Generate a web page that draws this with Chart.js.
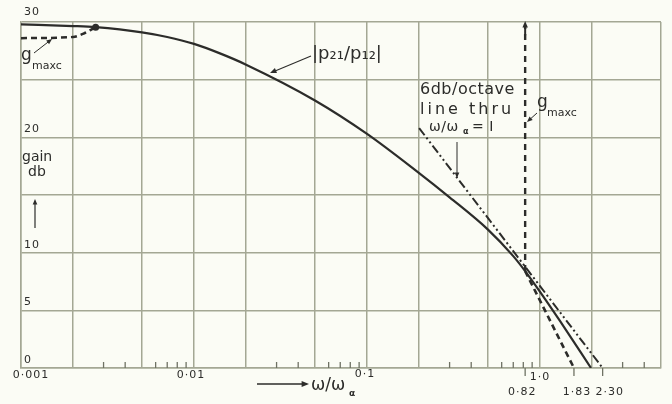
<!DOCTYPE html>
<html>
<head>
<meta charset="utf-8">
<script src="https://cdn.jsdelivr.net/npm/chart.js@4.4.1/dist/chart.umd.min.js"></script>
<style>
  html, body { margin: 0; padding: 0; background: #fbfcf5; }
  canvas { display: block; }
</style>
</head>
<body>
<canvas id="gainChart" width="672" height="404" style="width:672px;height:404px"></canvas>
<script>
// |p21/p12| gain curve (x = w/w_alpha, y = dB)
const gainX  = [0.001, 0.002, 0.0027, 0.005, 0.007, 0.01, 0.014, 0.02, 0.05, 0.1, 0.2, 0.3, 0.5, 0.7, 0.82, 1.0, 1.3, 1.97];
const gainDb = [29.8, 29.65, 29.55, 29.1, 28.7, 28.1, 27.3, 26.3, 23.2, 20.3, 16.9, 14.8, 12.0, 9.7, 8.4, 6.6, 4.1, 0];

// g maxc, low frequency part (dashed) until it joins the curve
const gmaxLowX  = [0.001, 0.002, 0.0023, 0.0027];
const gmaxLowDb = [28.6, 28.7, 29.0, 29.55];

// g maxc above the asymptote (dashed)
const gmaxHighX  = [0.82, 1.57];
const gmaxHighDb = [8.4, 0];

// asymptote of g maxc at w/w_alpha = 0.82
const asymX  = [0.82, 0.82];
const asymDb = [8.4, 29.7];

// 6 db/octave line through w/w_alpha = 1
const octX  = [0.2, 2.3];
const octDb = [20.8, 0];

// grid lines and ticks
const xGrid   = [0.001, 0.002, 0.005, 0.01, 0.02, 0.05, 0.1, 0.2, 0.5, 1, 2, 5];
const xMinor  = [0.003, 0.004, 0.006, 0.007, 0.008, 0.009,
                 0.03, 0.04, 0.06, 0.07, 0.08, 0.09,
                 0.3, 0.4, 0.6, 0.7, 0.8, 0.9, 3, 4];
const xLabelVals = [0.001, 0.01, 0.1, 1];
const xLabels    = ['0·001', '0·01', '0·1', '1·0'];
const markX      = [0.82, 1.57, 2.3];   // where the scan draws the marked ticks
const markLabels = ['0·82', '1·83', '2·30'];
const yLabelVals = [0, 5, 10, 20, 30];

const ink = '#2c2c2a';
const gridColor = '#a4a794';

function pts(xs, ys) { return xs.map((x, i) => ({ x: x, y: ys[i] })); }

function arrow(ctx, x1, y1, x2, y2, s, w) {
  const a = Math.atan2(y2 - y1, x2 - x1);
  ctx.beginPath();
  ctx.lineWidth = w || 1.2;
  ctx.moveTo(x1, y1);
  ctx.lineTo(x2 - Math.cos(a) * s * 0.6, y2 - Math.sin(a) * s * 0.6);
  ctx.stroke();
  ctx.beginPath();
  ctx.moveTo(x2, y2);
  ctx.lineTo(x2 - s * Math.cos(a - 0.4), y2 - s * Math.sin(a - 0.4));
  ctx.lineTo(x2 - s * Math.cos(a + 0.4), y2 - s * Math.sin(a + 0.4));
  ctx.closePath();
  ctx.fill();
}

const paperPlugin = {
  id: 'paper',
  beforeDraw(chart) {
    const ctx = chart.ctx;
    ctx.save();
    ctx.fillStyle = '#fbfcf5';
    ctx.fillRect(0, 0, chart.width, chart.height);
    ctx.restore();
  },
  afterDraw(chart) {
    const ctx = chart.ctx;
    const xs = chart.scales.x, ys = chart.scales.y;
    const area = chart.chartArea;
    ctx.save();
    ctx.fillStyle = ink;

    // minor ticks standing on the axis
    ctx.lineWidth = 1.3;
    ctx.strokeStyle = '#6f7264';
    xMinor.forEach(v => {
      const px = xs.getPixelForValue(v);
      ctx.beginPath();
      ctx.moveTo(px, area.bottom);
      ctx.lineTo(px, area.bottom - 6);
      ctx.stroke();
    });
    // marked ticks below the axis
    markX.forEach(v => {
      const px = xs.getPixelForValue(v);
      ctx.beginPath();
      ctx.moveTo(px, area.bottom);
      ctx.lineTo(px, area.bottom + 8);
      ctx.stroke();
    });

    // y labels inside the plot, just above their grid line
    ctx.font = '11px "DejaVu Sans"';
    ctx.textAlign = 'left';
    ctx.textBaseline = 'middle';
    ctx.letterSpacing = '1px';
    yLabelVals.forEach(v => {
      const py = ys.getPixelForValue(v);
      ctx.fillText(String(v), area.left + 3, py - (v === 30 ? 10 : 8));
    });

    // x labels
    const xOff = [10, -3, -2, 0];
    const yOff = [7, 7, 6, 9];
    ctx.textAlign = 'center';
    xLabelVals.forEach((v, i) => {
      ctx.fillText(xLabels[i], xs.getPixelForValue(v) + xOff[i], area.bottom + yOff[i]);
    });
    const mOff = [-3, 3, 7];
    markX.forEach((v, i) => {
      ctx.fillText(markLabels[i], xs.getPixelForValue(v) + mOff[i], area.bottom + 24);
    });
    ctx.letterSpacing = '0px';

    // axis title  ---> w/w_alpha
    ctx.strokeStyle = ink;
    arrow(ctx, 257, 384, 309, 384, 8, 1.3);
    ctx.textAlign = 'left';
    ctx.font = '17px "DejaVu Sans"';
    ctx.fillText('ω/ω', 311, 386);
    ctx.font = 'bold 9px "DejaVu Sans"';
    ctx.fillText('α', 349, 394);

    // gain db, with arrow
    ctx.font = '14px "DejaVu Sans"';
    ctx.fillText('gain', 22, 157);
    ctx.fillText('db', 28, 172);
    arrow(ctx, 35, 228, 35, 199, 6, 1.2);

    // |p21/p12|
    ctx.font = '18px "DejaVu Sans"';
    ctx.fillText('|p₂₁/p₁₂|', 312, 54);
    arrow(ctx, 311, 56, 270, 73, 7, 1.1);

    // g maxc labels
    ctx.font = '17px "DejaVu Sans"';
    ctx.fillText('g', 21, 56);
    ctx.fillText('g', 537, 103);
    ctx.font = '11px "DejaVu Sans"';
    ctx.fillText('maxc', 32, 66);
    ctx.fillText('maxc', 547, 113);
    arrow(ctx, 34, 53, 52, 39, 6, 1);
    arrow(ctx, 537, 113, 527, 122, 6, 1);

    // 6db/octave note
    ctx.font = '16px "DejaVu Sans"';
    ctx.letterSpacing = '0.5px';
    ctx.fillText('6db/octave', 420, 90);
    ctx.letterSpacing = '3px';
    ctx.fillText('line thru', 420, 110);
    ctx.letterSpacing = '0.5px';
    ctx.font = '14px "DejaVu Sans"';
    ctx.fillText('ω/ω', 429, 127);
    ctx.font = 'bold 8px "DejaVu Sans"';
    ctx.fillText('α', 463, 132);
    ctx.font = '14px "DejaVu Sans"';
    ctx.fillText('= I', 472, 127);
    ctx.letterSpacing = '0px';
    arrow(ctx, 457, 142, 457, 178, 6, 1);

    // arrow head on the asymptote
    const ax = xs.getPixelForValue(asymX[1]);
    const ay = ys.getPixelForValue(asymDb[1]);
    arrow(ctx, ax, ay + 10, ax, area.top - 1, 7, 2);
    ctx.restore();
  }
};

const ctx = document.getElementById('gainChart').getContext('2d');
const gainChart = new Chart(ctx, {
  type: 'line',
  data: {
    datasets: [
      {
        label: '|p21/p12|',
        data: pts(gainX, gainDb),
        borderColor: ink,
        borderWidth: 2.2,
        cubicInterpolationMode: 'monotone',
        pointRadius: 0
      },
      {
        label: 'g maxc',
        data: pts(gmaxLowX, gmaxLowDb),
        borderColor: ink,
        borderWidth: 2.5,
        borderDash: [6, 4],
        cubicInterpolationMode: 'monotone',
        pointRadius: [0, 0, 0, 3.5],
        pointBackgroundColor: ink,
        pointBorderWidth: 0
      },
      {
        label: 'g maxc high',
        data: pts(gmaxHighX, gmaxHighDb),
        borderColor: ink,
        borderWidth: 2.6,
        borderDash: [6, 4],
        pointRadius: 0
      },
      {
        label: 'asymptote',
        data: pts(asymX, asymDb),
        borderColor: ink,
        borderWidth: 2.4,
        borderDash: [6, 5],
        pointRadius: 0
      },
      {
        label: '6db/octave',
        data: pts(octX, octDb),
        borderColor: ink,
        borderWidth: 2,
        borderDash: [9, 3, 2, 3, 2, 3],
        pointRadius: 0
      }
    ]
  },
  options: {
    responsive: false,
    animation: false,
    devicePixelRatio: 1,
    layout: { padding: { left: 21, right: 11, top: 22, bottom: 36 } },
    plugins: {
      legend: { display: false },
      tooltip: { enabled: false }
    },
    scales: {
      x: {
        type: 'logarithmic',
        min: 0.001,
        max: 5,
        afterBuildTicks: s => { s.ticks = xGrid.map(v => ({ value: v })); },
        ticks: { display: false },
        grid: { color: gridColor, lineWidth: 1.5, drawTicks: false },
        border: { color: gridColor, width: 1.5 }
      },
      y: {
        min: 0,
        max: 30,
        ticks: { display: false, stepSize: 5 },
        grid: { color: gridColor, lineWidth: 1.5, drawTicks: false },
        border: { color: gridColor, width: 1.5 }
      }
    }
  },
  plugins: [paperPlugin]
});
</script>
</body>
</html>
